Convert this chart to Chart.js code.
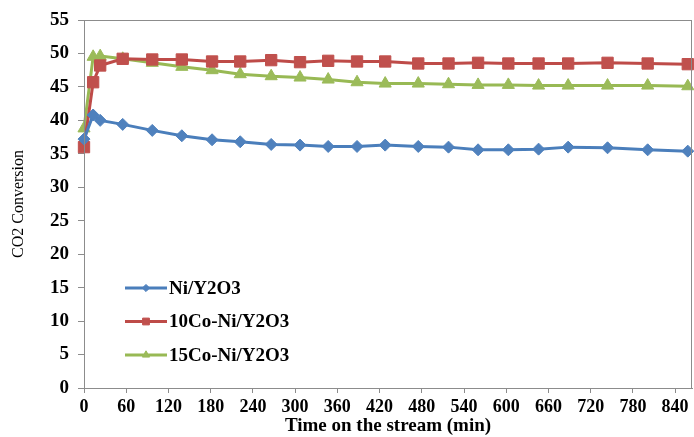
<!DOCTYPE html>
<html>
<head>
<meta charset="utf-8">
<script src="https://cdn.jsdelivr.net/npm/chart.js@4/dist/chart.umd.min.js"></script>
<style>
  html, body { margin:0; padding:0; background:#fff; }
  #wrap { width:694px; height:437px; position:relative; }
</style>
</head>
<body>
<div id="wrap"><canvas id="chart"></canvas></div>
<script>
// ── Data ─────────────────────────────────────────────────────
const times   = [0, 13, 23, 55, 97, 139, 182, 222, 266, 307, 347, 388, 428, 475, 518, 560, 603, 646, 688, 744, 801, 858];
const niY2O3  = [37.2, 40.8, 40.0, 39.4, 38.5, 37.7, 37.1, 36.8, 36.4, 36.3, 36.1, 36.1, 36.3, 36.1, 36.0, 35.6, 35.6, 35.7, 36.0, 35.9, 35.6, 35.4];
const co10    = [36.0, 45.7, 48.2, 49.2, 49.1, 49.1, 48.8, 48.8, 49.0, 48.7, 48.9, 48.8, 48.8, 48.5, 48.5, 48.6, 48.5, 48.5, 48.5, 48.6, 48.5, 48.4];
const co15    = [38.8, 49.5, 49.6, 49.2, 48.6, 48.0, 47.5, 46.9, 46.6, 46.4, 46.1, 45.7, 45.5, 45.5, 45.4, 45.3, 45.3, 45.2, 45.2, 45.2, 45.2, 45.1];
const seriesNames = ['Ni/Y2O3', '10Co-Ni/Y2O3', '15Co-Ni/Y2O3'];
const xTicks  = [0, 60, 120, 180, 240, 300, 360, 420, 480, 540, 600, 660, 720, 780, 840];

const C = {
  axis:'#8c8c8c', text:'#000',
  blue:'#4a7ebb', red:'#be4b48', green:'#98b954',
  blueFill:'#4f81bd', redFill:'#c0504d', greenFill:'#9bbb59',
};
const SERIF = '"Liberation Serif", "Times New Roman", serif';

const pts = ys => ys.map((y, i) => ({ x: times[i], y }));

function ds(label, ys, line, fill, style, r) {
  return { label, data: pts(ys), borderColor: line, backgroundColor: fill,
    borderWidth: 3, pointStyle: style, pointRadius: r, pointHoverRadius: r,
    pointBorderColor: fill, pointBackgroundColor: fill, pointBorderWidth: 1,
    tension: 0, clip: false };
}

// ── Plugins: plot border + legend inside the plot ────────────
const frame = {
  id: 'frame',
  afterDraw(chart) {
    const { ctx, chartArea: a } = chart;
    ctx.save();
    ctx.strokeStyle = C.axis; ctx.lineWidth = 1;
    ctx.strokeRect(a.left + 0.5, a.top + 0.5, a.right - a.left - 1, a.bottom - a.top);
    ctx.restore();
  }
};

const innerLegend = {
  id: 'innerLegend',
  afterDraw(chart) {
    const { ctx } = chart;
    ctx.save();
    chart.data.datasets.forEach((d, i) => {
      const y = 288 + i * 33.5;
      ctx.strokeStyle = d.borderColor; ctx.lineWidth = 3;
      ctx.beginPath(); ctx.moveTo(125, y); ctx.lineTo(167, y); ctx.stroke();
      ctx.fillStyle = d.pointBackgroundColor; ctx.strokeStyle = d.pointBorderColor; ctx.lineWidth = 1;
      Chart.helpers.drawPoint(ctx, { pointStyle: d.pointStyle, radius: d.pointRadius * 0.6, borderWidth: 1 }, 146, y);
      ctx.fillStyle = C.text;
      ctx.font = 'bold 19px ' + SERIF;
      ctx.textBaseline = 'middle'; ctx.textAlign = 'left';
      ctx.fillText(d.label, 169, y + 1);
    });
    ctx.restore();
  }
};

new Chart(document.getElementById('chart'), {
  type: 'line',
  data: {
    datasets: [
      ds(seriesNames[0], niY2O3, C.blue,  C.blueFill,  'rectRot',  6),
      ds(seriesNames[1], co10,   C.red,   C.redFill,   'rect',     8),
      ds(seriesNames[2], co15,   C.green, C.greenFill, 'triangle', 7),
    ]
  },
  options: {
    responsive: true, maintainAspectRatio: false, animation: false,
    // autoPadding off, otherwise the marker size pushes the plot edges in
    layout: { autoPadding: false, padding: { top: 20, right: 2, left: 0, bottom: 0 } },
    plugins: { legend: { display: false }, tooltip: { enabled: false } },
    scales: {
      x: {
        type: 'linear', min: 0, max: 864,
        afterBuildTicks: s => { s.ticks = xTicks.map(v => ({ value: v })); },
        afterFit: s => { s.height = 49; s.paddingLeft = 0; s.paddingRight = 0; },
        grid: { drawOnChartArea: false, drawTicks: true, tickLength: 5, color: C.axis },
        border: { display: true, color: C.axis },
        ticks: { color: C.text, padding: 4, maxRotation: 0, autoSkip: false,
          font: { family: SERIF, size: 18, weight: 'bold' } },
        title: { display: true, text: 'Time on the stream (min)', color: C.text,
          padding: { top: 1, bottom: 0 },
          font: { family: SERIF, size: 19, weight: 'bold' } },
      },
      y: {
        min: 0, max: 55,
        ticks: { stepSize: 5, color: C.text, padding: 9,
          font: { family: SERIF, size: 19, weight: 'bold' } },
        afterFit: s => { s.width = 84; s.paddingTop = 0; s.paddingBottom = 0; },
        grid: { drawOnChartArea: false, drawTicks: true, tickLength: 6, color: C.axis },
        border: { display: true, color: C.axis },
        title: { display: true, text: 'CO2 Conversion', color: C.text,
          padding: { top: 9, bottom: 0 },
          font: { family: SERIF, size: 16 } },
      },
    },
  },
  plugins: [frame, innerLegend],
});
</script>
</body>
</html>
